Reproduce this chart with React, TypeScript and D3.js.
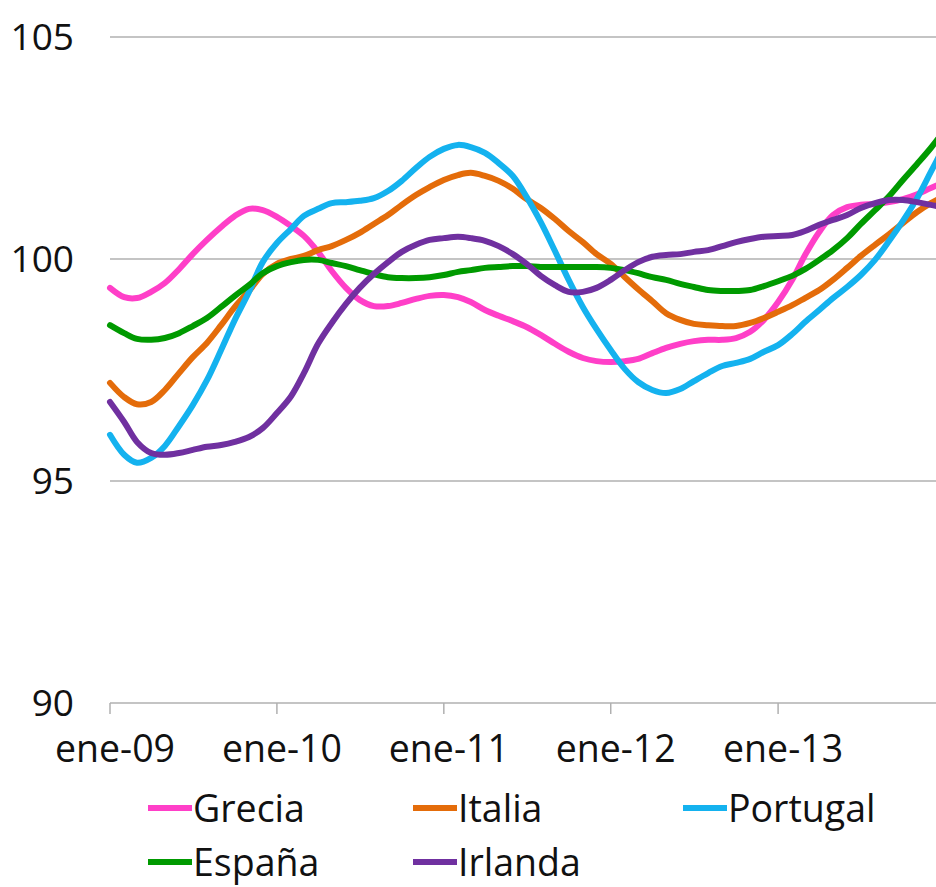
import React from "react";
import * as d3 from "d3";

const months: Date[] = d3.timeMonth.range(new Date(2009, 0, 1), new Date(2014, 1, 1));

const grecia = [99.35,99.14,99.12,99.26,99.46,99.77,100.11,100.43,100.72,100.97,101.13,101.10,100.95,100.74,100.52,100.16,99.73,99.35,99.08,98.94,98.94,99.01,99.10,99.17,99.19,99.14,99.03,98.85,98.72,98.60,98.47,98.29,98.09,97.91,97.77,97.70,97.68,97.70,97.75,97.88,98.00,98.09,98.15,98.18,98.18,98.22,98.36,98.63,99.03,99.53,100.09,100.61,100.99,101.17,101.22,101.24,101.28,101.35,101.46,101.60,101.73];
const italia = [97.21,96.89,96.73,96.78,97.05,97.43,97.79,98.11,98.51,98.92,99.28,99.66,99.89,100.0,100.07,100.20,100.29,100.43,100.59,100.79,100.99,101.22,101.44,101.62,101.78,101.89,101.94,101.87,101.76,101.58,101.35,101.15,100.90,100.63,100.38,100.11,99.89,99.59,99.32,99.05,98.78,98.63,98.54,98.51,98.49,98.49,98.56,98.67,98.81,98.96,99.12,99.30,99.53,99.80,100.07,100.32,100.56,100.81,101.06,101.26,101.42];
const portugal = [96.04,95.59,95.41,95.52,95.79,96.24,96.71,97.27,97.95,98.63,99.26,99.93,100.36,100.68,100.97,101.13,101.26,101.28,101.31,101.37,101.53,101.76,102.05,102.30,102.48,102.57,102.52,102.39,102.16,101.87,101.40,100.83,100.18,99.53,98.92,98.42,97.95,97.52,97.23,97.05,96.98,97.07,97.25,97.43,97.59,97.66,97.75,97.91,98.06,98.31,98.58,98.85,99.12,99.37,99.64,99.98,100.41,100.86,101.37,101.96,102.57];
const espana = [98.51,98.33,98.20,98.18,98.22,98.33,98.49,98.67,98.92,99.17,99.41,99.68,99.84,99.93,99.98,99.98,99.91,99.84,99.75,99.66,99.59,99.57,99.57,99.59,99.64,99.71,99.75,99.80,99.82,99.84,99.84,99.82,99.82,99.82,99.82,99.82,99.80,99.75,99.68,99.59,99.53,99.44,99.37,99.30,99.28,99.28,99.30,99.39,99.50,99.62,99.77,99.98,100.20,100.47,100.79,101.10,101.42,101.78,102.14,102.50,102.91];
const irlanda = [96.78,96.33,95.88,95.63,95.59,95.63,95.70,95.77,95.81,95.88,95.99,96.19,96.53,96.91,97.43,98.09,98.56,98.99,99.35,99.66,99.93,100.16,100.32,100.43,100.47,100.50,100.47,100.41,100.29,100.11,99.89,99.62,99.41,99.26,99.26,99.35,99.53,99.75,99.93,100.05,100.09,100.11,100.16,100.20,100.29,100.38,100.45,100.50,100.52,100.54,100.63,100.77,100.88,100.99,101.15,101.26,101.33,101.33,101.28,101.22,101.15];

const seriesNames = ["Grecia", "Italia", "Portugal", "España", "Irlanda"];
const seriesValues = [grecia, italia, portugal, espana, irlanda];
const seriesColors = ["#ff3fc8", "#e46c0a", "#14b2ef", "#009a00", "#7030a0"];

const yTicks = [90, 95, 100, 105];
const xTickDates = [new Date(2009, 0, 1), new Date(2010, 0, 1), new Date(2011, 0, 1), new Date(2012, 0, 1), new Date(2013, 0, 1)];
const xTickLabels = ["ene-09", "ene-10", "ene-11", "ene-12", "ene-13"];

const W = 936;
const H = 887;
const FONT = "'Open Sans', 'Noto Sans', sans-serif";

export default function App() {
  const x = d3.scaleTime()
    .domain([new Date(2009, 0, 1), new Date(2014, 0, 1)])
    .range([110, 945]);
  const y = d3.scaleLinear().domain([90, 105]).range([703, 37]);

  const line = d3.line<number>()
    .x((_, i) => x(months[i]))
    .y((d) => y(d))
    .curve(d3.curveCatmullRom.alpha(0.5));

  const legendItems = [
    { i: 0, x: 148, y: 808 },
    { i: 1, x: 413, y: 808 },
    { i: 2, x: 683, y: 808 },
    { i: 3, x: 148, y: 862 },
    { i: 4, x: 413, y: 862 },
  ];

  return (
    <div style={{ position: "absolute", left: 0, top: 0, width: W, height: H, background: "#fff" }}>
      <svg width={W} height={H} style={{ display: "block" }} fontFamily={FONT}>
        <rect width={W} height={H} fill="#fff" />
        {yTicks.filter((t) => t !== 90).map((t) => (
          <line key={t} x1={110} x2={W} y1={y(t)} y2={y(t)} stroke="#b0b0b0" strokeWidth={1.5} />
        ))}
        <line x1={110} x2={W} y1={y(90)} y2={y(90)} stroke="#b0b0b0" strokeWidth={1.5} />
        {xTickDates.map((d, k) => (
          <line key={k} x1={x(d)} x2={x(d)} y1={y(90)} y2={y(90) + 11} stroke="#b0b0b0" strokeWidth={1.5} />
        ))}
        {yTicks.map((t) => (
          <text key={t} x={74} y={y(t)} dy="0.36em" textAnchor="end" fontSize={37} fill="#111">
            {t}
          </text>
        ))}
        {xTickDates.map((d, k) => (
          <text key={k} x={x(d) + 5} y={762} textAnchor="middle" fontSize={37.5} fill="#111">
            {xTickLabels[k]}
          </text>
        ))}
        {seriesValues.map((vals, s) => (
          <path key={s} d={line(vals) || ""} fill="none" stroke={seriesColors[s]} strokeWidth={6} strokeLinejoin="round" strokeLinecap="round" />
        ))}
        {legendItems.map((it) => (
          <g key={it.i}>
            <line x1={it.x} x2={it.x + 44} y1={it.y} y2={it.y} stroke={seriesColors[it.i]} strokeWidth={6} />
            <text x={it.x + 45} y={it.y} dy="0.36em" fontSize={37.5} fill="#111">
              {seriesNames[it.i]}
            </text>
          </g>
        ))}
      </svg>
    </div>
  );
}
